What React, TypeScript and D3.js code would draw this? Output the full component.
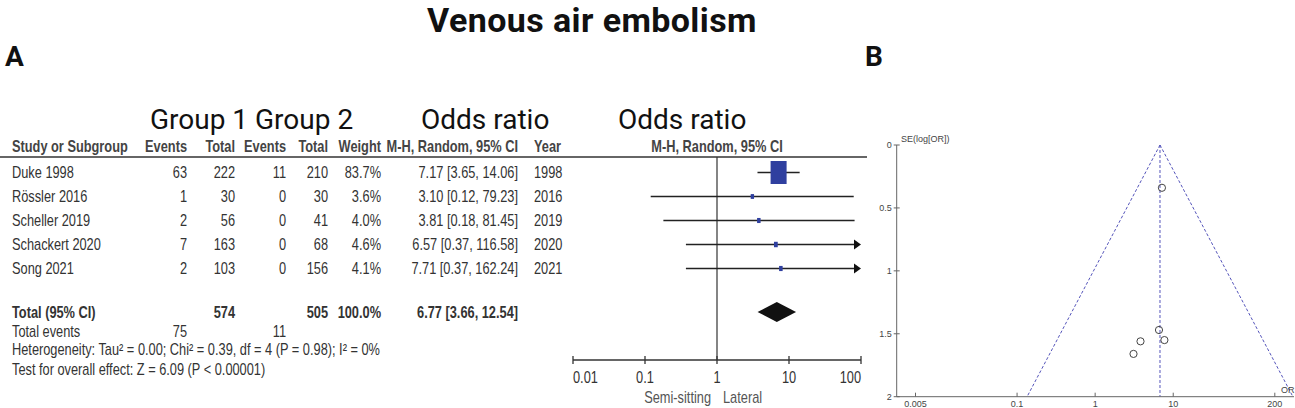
import React from "react";
import * as d3 from "d3";

const studies = ["Duke 1998", "Rössler 2016", "Scheller 2019", "Schackert 2020", "Song 2021"];
const events1 = [63, 1, 2, 7, 2];
const total1 = [222, 30, 56, 163, 103];
const events2 = [11, 0, 0, 0, 0];
const total2 = [210, 30, 41, 68, 156];
const weights = [83.7, 3.6, 4.0, 4.6, 4.1];
const oddsRatio = [7.17, 3.1, 3.81, 6.57, 7.71];
const ciLow = [3.65, 0.12, 0.18, 0.37, 0.37];
const ciHigh = [14.06, 79.23, 81.45, 116.58, 162.24];
const years = [1998, 2016, 2019, 2020, 2021];
const seLogOR = [0.34, 1.66, 1.56, 1.47, 1.55];

const pooledOR = 6.77;
const pooledLow = 3.66;
const pooledHigh = 12.54;
const totalN1 = 574;
const totalN2 = 505;
const totalEvents1 = 75;
const totalEvents2 = 11;

const forestTicks = [0.01, 0.1, 1, 10, 100];
const funnelXTicks = [0.005, 0.1, 1, 10, 200];
const funnelYTicks = [0, 0.5, 1, 1.5, 2];

const ROBOTO = "Roboto, 'Noto Sans', sans-serif";
const SANS = "'Liberation Sans', Arial, sans-serif";
const TXT = "#333";

type NTProps = {
  x: number;
  y: number;
  anchor?: "start" | "middle" | "end";
  bold?: boolean;
  fill?: string;
  size?: number;
  children: React.ReactNode;
};

// Condensed (Arial Narrow–like) text: Liberation Sans squeezed horizontally
function NT({ x, y, anchor = "start", bold = false, fill = TXT, size = 16, children }: NTProps) {
  return (
    <text
      transform={`translate(${x},${y}) scale(0.8,1)`}
      textAnchor={anchor}
      dy="0.35em"
      fontFamily={SANS}
      fontSize={size}
      fontWeight={bold ? 700 : 400}
      fill={fill}
    >
      {children}
    </text>
  );
}

export default function App() {
  const fx = d3.scaleLog().domain([0.01, 100]).range([573, 861]);
  const rowY = d3.scaleLinear().domain([0, 4]).range([172.5, 268.5]);
  const totalY = 312;
  const axisY = 360;
  const headerY = 146.5;
  const headerLineY = 157;
  const sqScale = d3.scaleSqrt().domain([0, 100]).range([0, 17.5]);

  const gx = d3.scaleLog().domain([0.005, 200]).range([915.5, 1274.8]);
  const gy = d3.scaleLinear().domain([0, 2]).range([145, 396.7]);
  const gAxisX = 896.7;
  const z = 1.96;
  const apexX = gx(pooledOR);
  const leftBottom = gx(Math.exp(Math.log(pooledOR) - z * 2));
  const rightBottom = gx(Math.exp(Math.log(pooledOR) + z * 2));

  const fmt = (v: number) => v.toFixed(2);
  const col = { name: 12, ev1: 187, tot1: 235, ev2: 286, tot2: 328, w: 381, ci: 518, year: 534 };

  return (
    <svg width={1295} height={408} style={{ position: "absolute", left: 0, top: 0, display: "block", background: "#fff" }}>
      {/* Titles */}
      <text x={592} y={32} textAnchor="middle" fontFamily={ROBOTO} fontWeight={700} fontSize={34} letterSpacing={0.4} fill="#111">
        Venous air embolism
      </text>
      <text x={5} y={66} fontFamily={ROBOTO} fontWeight={700} fontSize={28} fill="#111">A</text>
      <text x={865} y={66} fontFamily={ROBOTO} fontWeight={700} fontSize={28} fill="#111">B</text>

      {/* Group headers */}
      <text x={150} y={129} fontFamily={ROBOTO} fontSize={28} fill="#111">Group 1 Group 2</text>
      <text x={421} y={129} fontFamily={ROBOTO} fontSize={28} fill="#111">Odds ratio</text>
      <text x={618} y={129} fontFamily={ROBOTO} fontSize={28} fill="#111">Odds ratio</text>

      {/* Column headers */}
      <NT x={col.name} y={headerY} bold fill="#444">Study or Subgroup</NT>
      <NT x={col.ev1} y={headerY} anchor="end" bold fill="#444">Events</NT>
      <NT x={col.tot1} y={headerY} anchor="end" bold fill="#444">Total</NT>
      <NT x={col.ev2} y={headerY} anchor="end" bold fill="#444">Events</NT>
      <NT x={col.tot2} y={headerY} anchor="end" bold fill="#444">Total</NT>
      <NT x={col.w} y={headerY} anchor="end" bold fill="#444">Weight</NT>
      <NT x={col.ci} y={headerY} anchor="end" bold fill="#444">M-H, Random, 95% CI</NT>
      <NT x={col.year} y={headerY} bold fill="#444">Year</NT>
      <NT x={fx(1)} y={headerY} anchor="middle" bold fill="#444">M-H, Random, 95% CI</NT>
      <line x1={0} x2={867} y1={headerLineY} y2={headerLineY} stroke="#333" strokeWidth={1.5} />

      {/* Study rows */}
      {studies.map((s, i) => (
        <g key={s}>
          <NT x={col.name} y={rowY(i)}>{s}</NT>
          <NT x={col.ev1} y={rowY(i)} anchor="end">{events1[i]}</NT>
          <NT x={col.tot1} y={rowY(i)} anchor="end">{total1[i]}</NT>
          <NT x={col.ev2} y={rowY(i)} anchor="end">{events2[i]}</NT>
          <NT x={col.tot2} y={rowY(i)} anchor="end">{total2[i]}</NT>
          <NT x={col.w} y={rowY(i)} anchor="end">{weights[i].toFixed(1)}%</NT>
          <NT x={col.ci} y={rowY(i)} anchor="end">{`${fmt(oddsRatio[i])} [${fmt(ciLow[i])}, ${fmt(ciHigh[i])}]`}</NT>
          <NT x={col.year} y={rowY(i)}>{years[i]}</NT>
        </g>
      ))}

      {/* Total rows */}
      <NT x={col.name} y={totalY} bold>Total (95% CI)</NT>
      <NT x={col.tot1} y={totalY} anchor="end" bold>{totalN1}</NT>
      <NT x={col.tot2} y={totalY} anchor="end" bold>{totalN2}</NT>
      <NT x={col.w} y={totalY} anchor="end" bold>100.0%</NT>
      <NT x={col.ci} y={totalY} anchor="end" bold>{`${fmt(pooledOR)} [${fmt(pooledLow)}, ${fmt(pooledHigh)}]`}</NT>
      <NT x={col.name} y={331}>Total events</NT>
      <NT x={col.ev1} y={331} anchor="end">{totalEvents1}</NT>
      <NT x={col.ev2} y={331} anchor="end">{totalEvents2}</NT>
      <NT x={col.name} y={349.5}>Heterogeneity: Tau² = 0.00; Chi² = 0.39, df = 4 (P = 0.98); I² = 0%</NT>
      <NT x={col.name} y={369}>Test for overall effect: Z = 6.09 (P &lt; 0.00001)</NT>

      {/* Forest plot */}
      <line x1={fx(1)} x2={fx(1)} y1={headerLineY} y2={axisY} stroke="#333" strokeWidth={1.2} />
      {studies.map((s, i) => {
        const y = rowY(i);
        const x1 = fx(Math.max(ciLow[i], 0.01));
        const over = ciHigh[i] > 100;
        const x2 = over ? fx(100) - 6 : fx(ciHigh[i]);
        const w = sqScale(weights[i]);
        const h = Math.min(w * 1.45, 23);
        return (
          <g key={s}>
            <line x1={x1} x2={x2} y1={y} y2={y} stroke="#222" strokeWidth={1.3} />
            {over && <path d={`M${fx(100) - 7},${y - 5} L${fx(100)},${y} L${fx(100) - 7},${y + 5} Z`} fill="#111" />}
            <rect x={fx(oddsRatio[i]) - w / 2} y={y - h / 2} width={w} height={h} fill="#2f3f9f" />
          </g>
        );
      })}
      <path
        d={`M${fx(pooledLow)},${totalY} L${fx(pooledOR)},${totalY - 10} L${fx(pooledHigh)},${totalY} L${fx(pooledOR)},${totalY + 10} Z`}
        fill="#111"
      />
      <line x1={fx(0.01)} x2={fx(100)} y1={axisY} y2={axisY} stroke="#333" strokeWidth={1.3} />
      {forestTicks.map((t, i) => (
        <g key={t}>
          <line x1={fx(t)} x2={fx(t)} y1={axisY - 4} y2={axisY + 4} stroke="#333" strokeWidth={1.3} />
          <NT x={fx(t)} y={377} anchor={i === 0 ? "start" : i === forestTicks.length - 1 ? "end" : "middle"}>
            {t}
          </NT>
        </g>
      ))}
      <NT x={fx(1) - 6} y={397} anchor="end" fill="#555">Semi-sitting</NT>
      <NT x={fx(1) + 6} y={397} fill="#555">Lateral</NT>

      {/* Funnel plot */}
      <g stroke="#5555bb" strokeWidth={1} strokeDasharray="3,2" fill="none">
        <line x1={apexX} x2={leftBottom} y1={gy(0)} y2={gy(2)} />
        <line x1={apexX} x2={rightBottom} y1={gy(0)} y2={gy(2)} />
        <line x1={apexX} x2={apexX} y1={gy(0)} y2={gy(2)} />
      </g>
      <line x1={gAxisX} x2={gAxisX} y1={gy(0)} y2={gy(2)} stroke="#666" strokeWidth={1} />
      <line x1={gAxisX} x2={1294} y1={gy(2)} y2={gy(2)} stroke="#666" strokeWidth={1} />
      {funnelYTicks.map((t) => (
        <g key={t}>
          <line x1={gAxisX - 3} x2={gAxisX + 3} y1={gy(t)} y2={gy(t)} stroke="#666" />
          <text x={gAxisX - 5} y={gy(t)} dy="0.35em" textAnchor="end" fontFamily={SANS} fontSize={9} fill="#444">{t}</text>
        </g>
      ))}
      {funnelXTicks.map((t) => (
        <g key={t}>
          <line x1={gx(t)} x2={gx(t)} y1={gy(2) - 4} y2={gy(2)} stroke="#666" />
          <text x={gx(t)} y={404} dy="0.35em" textAnchor="middle" fontFamily={SANS} fontSize={9} fill="#444">{t}</text>
        </g>
      ))}
      <text x={901} y={139} dy="0.35em" fontFamily={SANS} fontSize={9} fill="#444">SE(log[OR])</text>
      <text x={1281} y={390} dy="0.35em" fontFamily={SANS} fontSize={9} fill="#444">OR</text>
      {studies.map((s, i) => (
        <circle key={s} cx={gx(oddsRatio[i])} cy={gy(seLogOR[i])} r={3.6} fill="none" stroke="#444" strokeWidth={1} />
      ))}
    </svg>
  );
}
